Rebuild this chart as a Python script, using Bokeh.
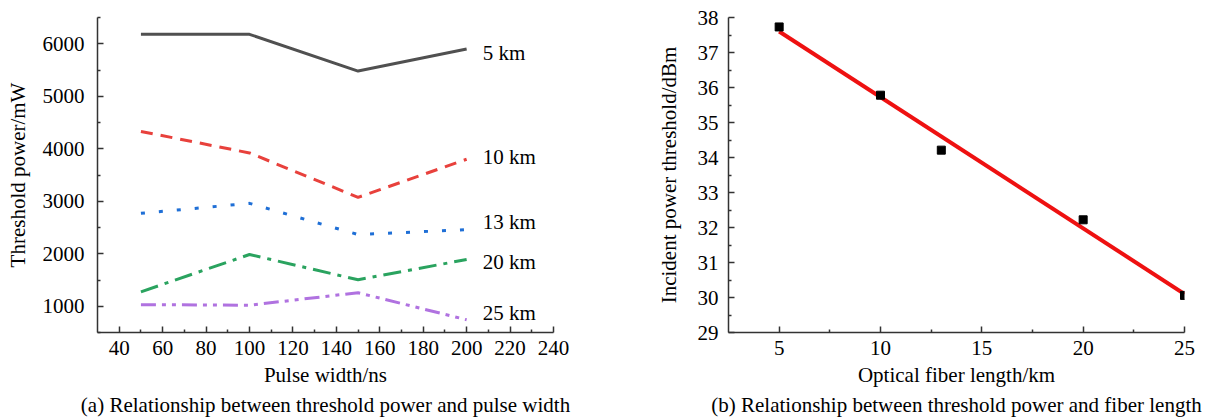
import numpy as np
from bokeh.plotting import figure
from bokeh.layouts import row
from bokeh.models import Range1d, FixedTicker, Title, Label
from bokeh.embed import file_html
from bokeh.resources import INLINE

# ---------------- data (a) ----------------
pulse_width = [50, 100, 150, 200]
series_names = ["5 km", "10 km", "13 km", "20 km", "25 km"]
p_5km = [6180, 6180, 5480, 5900]
p_10km = [4330, 3920, 3075, 3800]
p_13km = [2770, 2960, 2365, 2460]
p_20km = [1275, 1985, 1505, 1890]
p_25km = [1030, 1020, 1258, 742]
label_y = [5830, 3840, 2600, 1850, 880]

# ---------------- data (b) ----------------
fiber_length = [5, 10, 13, 20, 25]
threshold_dbm = [37.73, 35.78, 34.21, 32.22, 30.06]

FONT = "Liberation Serif"
FS = "21px"


def style_axes(p):
    for ax in (p.xaxis[0], p.yaxis[0]):
        ax.axis_line_color = "#333333"
        ax.axis_line_width = 1.5
        ax.major_tick_line_color = "#333333"
        ax.minor_tick_line_color = "#333333"
        ax.major_tick_line_width = 1.5
        ax.minor_tick_line_width = 1.5
        ax.major_tick_in = 6
        ax.major_tick_out = 0
        ax.minor_tick_in = 3
        ax.minor_tick_out = 0
        ax.major_label_text_font = FONT
        ax.major_label_text_font_size = FS
        ax.major_label_text_color = "black"
        ax.axis_label_text_font = FONT
        ax.axis_label_text_font_size = FS
        ax.axis_label_text_font_style = "normal"
        ax.axis_label_text_color = "black"
    p.xaxis[0].major_label_standoff = 8
    p.xaxis[0].axis_label_standoff = 5
    p.yaxis[0].major_label_standoff = 13
    p.yaxis[0].axis_label_standoff = 10
    p.xgrid.visible = False
    p.ygrid.visible = False
    p.outline_line_color = None


# ---------------- figure (a) ----------------
pa = figure(frame_width=456, frame_height=315, output_backend="svg",
            toolbar_location=None, x_range=Range1d(30, 240),
            y_range=Range1d(500, 6500),
            min_border_left=97, min_border_top=17, min_border_right=55,
            min_border_bottom=0)
pa.xaxis.axis_label = "Pulse width/ns"
pa.yaxis.axis_label = "Threshold power/mW"
pa.xaxis.ticker = FixedTicker(ticks=list(range(40, 241, 20)),
                              minor_ticks=list(range(50, 240, 20)))
pa.yaxis.ticker = FixedTicker(ticks=list(range(1000, 6001, 1000)),
                              minor_ticks=list(range(500, 6501, 1000)))
style_axes(pa)

series = [p_5km, p_10km, p_13km, p_20km, p_25km]
colors = ["#505050", "#e8413c", "#1f6fd6", "#2aa35f", "#b072e0"]
dashes = ["solid", "12 8", "4 14", "18 7 4 7", "15 6 4 6 4 6"]
for vals, c, d in zip(series, colors, dashes):
    pa.line(pulse_width, vals, line_color=c, line_width=3, line_dash=d)

for name, ly in zip(series_names, label_y):
    pa.add_layout(Label(x=pulse_width[-1], y=ly, text=name, x_offset=16,
                        text_font=FONT, text_font_size=FS,
                        text_baseline="middle", text_align="left",
                        text_color="black"))

pa.add_layout(Title(text="(a) Relationship between threshold power and pulse width",
                    align="center", text_font=FONT, text_font_size=FS,
                    text_font_style="normal", text_color="black", standoff=2),
              "below")

# ---------------- figure (b) ----------------
pb = figure(frame_width=456, frame_height=315, output_backend="svg",
            toolbar_location=None, x_range=Range1d(2.5, 25),
            y_range=Range1d(29, 38),
            min_border_left=120, min_border_top=17, min_border_right=24,
            min_border_bottom=0)
pb.xaxis.axis_label = "Optical fiber length/km"
pb.yaxis.axis_label = "Incident power threshold/dBm"
pb.xaxis.ticker = FixedTicker(ticks=[5, 10, 15, 20, 25],
                              minor_ticks=[7.5, 12.5, 17.5, 22.5])
pb.yaxis.ticker = FixedTicker(ticks=list(range(29, 39)),
                              minor_ticks=[v + 0.5 for v in range(29, 38)])
style_axes(pb)
pb.yaxis[0].major_label_standoff = 10
pb.yaxis[0].axis_label_standoff = 14

slope, intercept = np.polyfit(fiber_length, threshold_dbm, 1)
fx = np.array([fiber_length[0], fiber_length[-1]], dtype=float)
pb.line(fx, slope * fx + intercept, line_color="#ee1111", line_width=4)
pb.scatter(fiber_length, threshold_dbm, marker="square", size=8,
           fill_color="black", line_color="black")

pb.add_layout(Title(text="(b) Relationship between threshold power and fiber length",
                    align="center", text_font=FONT, text_font_size=FS,
                    text_font_style="normal", text_color="black", standoff=2),
              "below")

layout = row(pa, pb)
open("out.html", "w").write(file_html(layout, INLINE))
